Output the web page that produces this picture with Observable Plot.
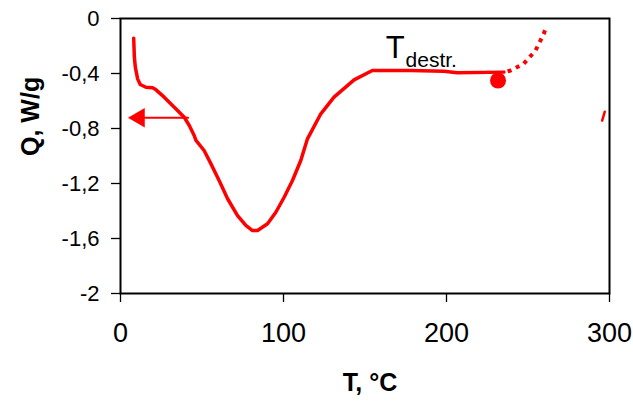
<!DOCTYPE html>
<html>
<head>
<meta charset="utf-8">
<script src="https://cdn.jsdelivr.net/npm/d3@7"></script>
<script src="https://cdn.jsdelivr.net/npm/@observablehq/plot@0.6"></script>
<style>
  html, body { margin: 0; padding: 0; background: white; }
</style>
</head>
<body>
<div id="chart"></div>
<script>
// Main DSC curve (solid)
const mainT = [8.1, 8.5, 9.1, 10.5, 12.1, 15.6, 19.7, 21.8, 26.8, 33.0, 39.1, 42.2, 45.2, 46.3, 51.3, 55.5, 60.5, 65.7, 71.8, 76.9, 81.0, 84.1, 90.2, 95.3, 100.4, 105.5, 110.6, 114.7, 122.9, 131.0, 143.3, 154.5, 178.0, 198.4, 206.6, 235.2];
const mainQ = [-0.143, -0.28, -0.354, -0.439, -0.48, -0.50, -0.504, -0.519, -0.572, -0.645, -0.718, -0.778, -0.851, -0.887, -0.96, -1.057, -1.178, -1.311, -1.433, -1.505, -1.542, -1.542, -1.493, -1.409, -1.30, -1.178, -1.033, -0.875, -0.693, -0.572, -0.446, -0.378, -0.378, -0.383, -0.395, -0.39];
// Dotted continuation after destruction
const dotT = [237.5, 239.3, 247.4, 254.6, 259.7, 261.2];
const dotQ = [-0.385, -0.378, -0.329, -0.233, -0.111, -0.058];
// Small fragment near right edge
const fragT = [295.5, 297.1];
const fragQ = [-0.742, -0.678];
// Destruction point marker
const destrT = [231.6];
const destrQ = [-0.451];
// Arrow (pointing to left axis)
const arrowT = [41.5, 9];
const arrowQ = [-0.722, -0.722];
// Axis ticks
const xTicks = [0, 100, 200, 300];
const xTickLabels = ["0", "100", "200", "300"];
const yTicks = [0, -0.4, -0.8, -1.2, -1.6, -2];
const yTickLabels = ["0", "-0,4", "-0,8", "-1,2", "-1,6", "-2"];
// Texts
const xTitle = "T, °C";
const yTitle = "Q, W/g";
const annotMain = "T";
const annotSub = "destr.";

const toRows = (xs, ys) => xs.map((x, i) => ({T: x, Q: ys[i]}));
const red = "#ff0000";

const chart = Plot.plot({
  width: 633,
  height: 411,
  marginLeft: 120,
  marginRight: 24,
  marginTop: 18,
  marginBottom: 118,
  style: {fontFamily: "'Liberation Sans', Arial, sans-serif", background: "white", color: "black"},
  x: {domain: [0, 300]},
  y: {domain: [-2, 0]},
  marks: [
    Plot.axisX({ticks: xTicks, tickFormat: (d) => xTickLabels[xTicks.indexOf(d)], tickSize: 9, tickPadding: 20, fontSize: 27, label: null, stroke: "black", strokeWidth: 1.3}),
    Plot.axisY({ticks: yTicks, tickFormat: (d) => yTickLabels[yTicks.findIndex(t => Math.abs(t - d) < 1e-9)], tickSize: 9, tickPadding: 12, fontSize: 22, label: null, stroke: "black", strokeWidth: 1.3}),
    Plot.frame({stroke: "black", strokeWidth: 2}),
    Plot.line(toRows(mainT, mainQ), {x: "T", y: "Q", stroke: red, strokeWidth: 3.5, strokeLinejoin: "round"}),
    Plot.line(toRows(dotT, dotQ), {x: "T", y: "Q", stroke: red, strokeWidth: 4, strokeDasharray: "4,5", strokeLinecap: "butt"}),
    Plot.line(toRows(fragT, fragQ), {x: "T", y: "Q", stroke: red, strokeWidth: 2.5}),
    Plot.dot(toRows(destrT, destrQ), {x: "T", y: "Q", r: 8, fill: red, stroke: "none"}),
    Plot.line(toRows(arrowT, arrowQ), {x: "T", y: "Q", stroke: red, strokeWidth: 2}),
    Plot.dot(toRows([arrowT[1]], [arrowQ[1]]), {x: "T", y: "Q", symbol: "triangle", rotate: -90, r: 7.2, fill: red, stroke: "none", dx: 4}),
    Plot.text([annotMain], {x: 162.7, y: -0.284, text: d => d, textAnchor: "start", lineAnchor: "bottom", fontSize: 31, fill: "black"}),
    Plot.text([annotSub], {x: 174.9, y: -0.356, text: d => d, textAnchor: "start", lineAnchor: "bottom", fontSize: 21, fill: "black"}),
    Plot.text([xTitle], {frameAnchor: "bottom", dx: 5, dy: 89, text: d => d, lineAnchor: "middle", fontSize: 25, fontWeight: "bold", fill: "black"}),
    Plot.text([yTitle], {frameAnchor: "left", dx: -90, text: d => d, rotate: -90, lineAnchor: "middle", fontSize: 25, fontWeight: "bold", fill: "black"})
  ]
});
document.getElementById("chart").appendChild(chart);
</script>
</body>
</html>
